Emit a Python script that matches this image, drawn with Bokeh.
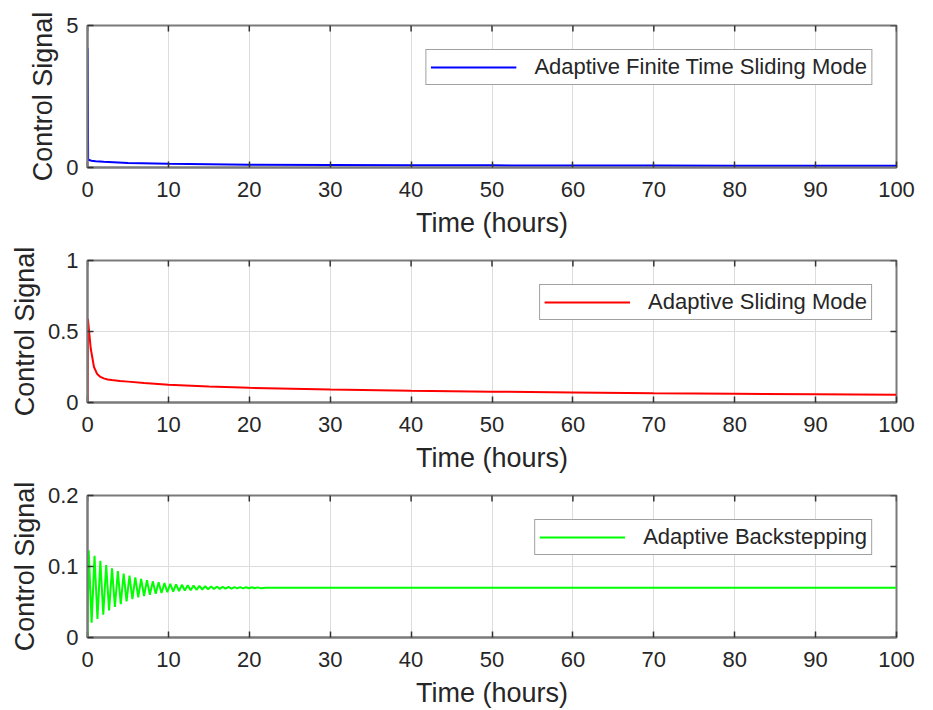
import math
from bokeh.plotting import figure
from bokeh.layouts import column
from bokeh.models import Legend, LegendItem, FixedTicker, Range1d
from bokeh.embed import file_html
from bokeh.resources import INLINE

# ---------------- data ----------------
x_ticks = [0, 10, 20, 30, 40, 50, 60, 70, 80, 90, 100]

# Adaptive Finite Time Sliding Mode
t_afts = [0, 0.08, 0.5, 1, 2, 5, 10, 20, 30, 40, 50, 60, 70, 80, 90, 100]
u_afts = [4.2, 0.27, 0.24, 0.22, 0.2, 0.16, 0.13, 0.1, 0.09, 0.08, 0.075, 0.07,
          0.068, 0.065, 0.062, 0.06]

# Adaptive Sliding Mode
t_asm = [0, 0.05, 0.2, 0.4, 0.8, 1.2, 1.6, 2.0, 2.5, 3, 4, 5, 7, 10, 15, 20,
         30, 40, 50, 60, 70, 80, 90, 100]
u_asm = [0, 0.59, 0.5, 0.38, 0.25, 0.2, 0.18, 0.17, 0.162, 0.158, 0.152, 0.147,
         0.137, 0.125, 0.112, 0.103, 0.092, 0.083, 0.076, 0.071, 0.066, 0.062,
         0.058, 0.054]

# Adaptive Backstepping
t_ab = [0, 0.15, 0.51, 0.87, 1.23, 1.59, 1.95, 2.31, 2.67, 3.03, 3.39, 3.75,
        4.11, 4.47, 4.83, 5.19, 5.55, 5.91, 6.27, 6.63, 6.99, 7.35, 7.71, 8.07,
        8.43, 8.79, 9.15, 9.51, 9.87, 10.23, 10.59, 10.95, 11.31, 11.67, 12.03,
        12.39, 12.75, 13.11, 13.47, 13.83, 14.19, 14.55, 14.91, 15.27, 15.63,
        15.99, 16.35, 16.71, 17.07, 17.43, 17.79, 18.15, 18.51, 18.87, 19.23,
        19.59, 19.95, 20.31, 20.67, 21.03, 21.39, 22, 100]
u_ab = [0, 0.123, 0.021, 0.115, 0.026, 0.108, 0.032, 0.102, 0.038, 0.0974,
        0.043, 0.0934, 0.047, 0.09, 0.051, 0.0871, 0.0542, 0.0846, 0.0565,
        0.0825, 0.0585, 0.0807, 0.0601, 0.0791, 0.0616, 0.0778, 0.0628, 0.0767,
        0.0638, 0.0757, 0.0647, 0.0749, 0.0655, 0.0742, 0.0661, 0.0736, 0.0667,
        0.073, 0.0672, 0.0726, 0.0676, 0.0722, 0.068, 0.0719, 0.0682, 0.0716,
        0.0685, 0.0714, 0.0687, 0.0712, 0.0689, 0.071, 0.0691, 0.0709, 0.0692,
        0.0708, 0.0693, 0.0707, 0.0694, 0.0706, 0.0695, 0.07, 0.07]

y_ticks_top = [0, 5]
y_labels_top = ["0", "5"]
y_ticks_mid = [0, 0.5, 1]
y_labels_mid = ["0", "0.5", "1"]
y_ticks_bot = [0, 0.1, 0.2]
y_labels_bot = ["0", "0.1", "0.2"]

FONT = "Liberation Sans"
GREY = "#7a7a7a"
TXT = "#262626"
TICK = "#333333"


def make_fig(height, top, bottom, ymax, yticks, ylabels, t, u, color, label):
    p = figure(width=933, height=height, x_range=Range1d(0, 100),
               y_range=Range1d(0, ymax), output_backend="svg",
               toolbar_location=None, min_border_left=87, min_border_right=37,
               min_border_top=top, min_border_bottom=bottom)
    p.background_fill_color = "white"
    p.border_fill_color = "white"
    p.outline_line_color = GREY
    p.outline_line_width = 2

    p.xgrid.ticker = FixedTicker(ticks=x_ticks)
    p.ygrid.ticker = FixedTicker(ticks=yticks)
    p.grid.grid_line_color = "#dcdcdc"
    p.grid.grid_line_width = 1

    r = p.line(t, u, line_color=color, line_width=2)

    # inward box ticks on the top and right edges (half of each dash is clipped)
    p.scatter(x=x_ticks, y=[ymax] * len(x_ticks), marker="dash",
              angle=math.pi / 2, size=12, line_color=TICK, line_width=1.5)
    p.scatter(x=[100] * len(yticks), y=yticks, marker="dash", size=12,
              line_color=TICK, line_width=1.5)

    p.xaxis.ticker = FixedTicker(ticks=x_ticks)
    p.yaxis.ticker = FixedTicker(ticks=yticks)
    p.yaxis.major_label_overrides = {v: s for v, s in zip(yticks, ylabels)}
    for ax in (p.xaxis[0], p.yaxis[0]):
        ax.axis_line_color = GREY
        ax.axis_line_width = 2
        ax.major_tick_in = 6
        ax.major_tick_out = 0
        ax.major_tick_line_color = TICK
        ax.major_tick_line_width = 1.5
        ax.minor_tick_line_color = None
        ax.major_label_text_font = FONT
        ax.major_label_text_font_size = "22px"
        ax.major_label_text_color = TXT
        ax.axis_label_text_font = FONT
        ax.axis_label_text_font_size = "27px"
        ax.axis_label_text_font_style = "normal"
        ax.axis_label_text_color = TXT
    p.xaxis.major_label_standoff = 14
    p.yaxis.major_label_standoff = 9
    p.xaxis.axis_label = "Time (hours)"
    p.xaxis.axis_label_standoff = 8
    p.yaxis.axis_label = "Control Signal"
    p.yaxis.axis_label_standoff = 5

    leg = Legend(items=[LegendItem(label=label, renderers=[r])],
                 location="top_right", margin=24, padding=4, spacing=0,
                 glyph_width=86, glyph_height=18, label_standoff=18,
                 label_text_font=FONT, label_text_font_size="22px",
                 label_text_color=TXT, border_line_color="#444444",
                 border_line_width=1.5, background_fill_color="white",
                 background_fill_alpha=1)
    p.add_layout(leg)
    return p


p1 = make_fig(240, 25, 73, 5, y_ticks_top, y_labels_top, t_afts, u_afts,
              "#0000ff", "Adaptive Finite Time Sliding Mode")
p2 = make_fig(235, 20, 73, 1, y_ticks_mid, y_labels_mid, t_asm, u_asm,
              "#ff0000", "Adaptive Sliding Mode")
p3 = make_fig(235, 20, 73, 0.2, y_ticks_bot, y_labels_bot, t_ab, u_ab,
              "#00ff00", "Adaptive Backstepping")

layout = column(p1, p2, p3, spacing=0)
open("out.html", "w").write(file_html(layout, INLINE))
